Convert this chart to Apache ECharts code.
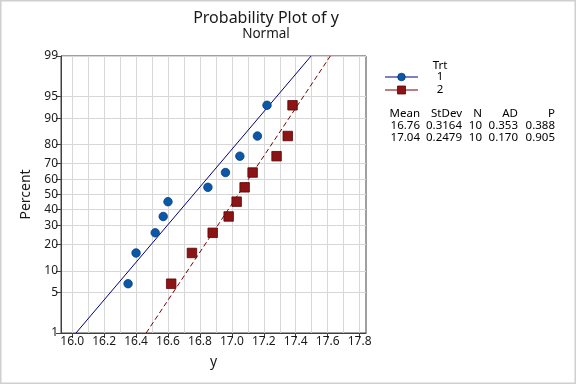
<!DOCTYPE html>
<html>
<head>
<meta charset="utf-8">
<script src="https://cdn.jsdelivr.net/npm/echarts@6/dist/echarts.min.js"></script>
<style>
html,body{margin:0;padding:0;background:#fff;}
#chart{width:576px;height:384px;}
</style>
</head>
<body>
<div id="chart"></div>
<script>
// ---- data ----
const percentTicks = [1, 5, 10, 20, 30, 40, 50, 60, 70, 80, 90, 95, 99];
const xLabelTicks = [16.0, 16.2, 16.4, 16.6, 16.8, 17.0, 17.2, 17.4, 17.6, 17.8];
const xGridTicks = [16.0, 16.1, 16.2, 16.3, 16.4, 16.5, 16.6, 16.7, 16.8, 16.9, 17.0, 17.1, 17.2, 17.3, 17.4, 17.5, 17.6, 17.7, 17.8];
const plotPercent = [6.7, 16.3, 26.0, 35.6, 45.2, 54.8, 64.4, 74.0, 83.7, 93.3];
const trt1 = [16.35, 16.40, 16.52, 16.57, 16.60, 16.85, 16.96, 17.05, 17.16, 17.22];
const trt2 = [16.62, 16.75, 16.88, 16.98, 17.03, 17.08, 17.13, 17.28, 17.35, 17.38];
const groups = ['1', '2'];
const means = [16.76, 17.04];
const stdevs = [0.3164, 0.2479];
const ns = [10, 10];
const ads = ['0.353', '0.170'];
const ps = ['0.388', '0.905'];

// inverse normal CDF (probability scale transform)
function qnorm(p){
  const a=[-3.969683028665376e+01,2.209460984245205e+02,-2.759285104469687e+02,1.383577518672690e+02,-3.066479806614716e+01,2.506628277459239e+00];
  const b=[-5.447609879822406e+01,1.615858368580409e+02,-1.556989798598866e+02,6.680131188771972e+01,-1.328068155288572e+01];
  const c=[-7.784894002430293e-03,-3.223964580411365e-01,-2.400758277161838e+00,-2.549732539343734e+00,4.374664141464968e+00,2.938163982698783e+00];
  const d=[7.784695709041462e-03,3.224671290700398e-01,2.445134137142996e+00,3.754408661907416e+00];
  const pl=0.02425, ph=1-pl; let q,r;
  if(p<pl){q=Math.sqrt(-2*Math.log(p));return (((((c[0]*q+c[1])*q+c[2])*q+c[3])*q+c[4])*q+c[5])/((((d[0]*q+d[1])*q+d[2])*q+d[3])*q+1);}
  if(p<=ph){q=p-0.5;r=q*q;return (((((a[0]*r+a[1])*r+a[2])*r+a[3])*r+a[4])*r+a[5])*q/(((((b[0]*r+b[1])*r+b[2])*r+b[3])*r+b[4])*r+1);}
  q=Math.sqrt(-2*Math.log(1-p));return -(((((c[0]*q+c[1])*q+c[2])*q+c[3])*q+c[4])*q+c[5])/((((d[0]*q+d[1])*q+d[2])*q+d[3])*q+1);
}
const zTicks = percentTicks.map(p => qnorm(p/100));
const zMin = zTicks[0], zMax = zTicks[zTicks.length-1];
const zPts = plotPercent.map(p => qnorm(p/100));
function fitLine(i){ return [[means[i]+stdevs[i]*zMin, zMin],[means[i]+stdevs[i]*zMax, zMax]]; }

const FONT = '"Noto Sans", "Open Sans", sans-serif';
const chart = echarts.init(document.getElementById('chart'), null, {renderer:'canvas'});

const legX = 385, legX2 = 418;
const colR = [420, 462, 482, 518, 555];
const tableGraphics = [];
const header = ['Mean','StDev','N','AD','P'];
header.forEach((h,j)=>tableGraphics.push({type:'text', x:colR[j], y:114, style:{text:h, textAlign:'right', textVerticalAlign:'middle', font:'11.5px '+FONT, fill:'#000'}}));
groups.forEach((g,i)=>{
  const row=[means[i].toFixed(2), stdevs[i].toFixed(4), String(ns[i]), ads[i], ps[i]];
  row.forEach((t,j)=>tableGraphics.push({type:'text', x:colR[j], y:126+i*11.7, style:{text:t, textAlign:'right', textVerticalAlign:'middle', font:'11.5px '+FONT, fill:'#000'}}));
});

chart.setOption({
  backgroundColor:'#fff',
  animation:false,
  title:{
    text:'Probability Plot of y', subtext:'Normal', left:261, top:5, textAlign:'center',
    textStyle:{fontFamily:FONT, fontSize:16, fontWeight:'normal', color:'#1a1a1a'},
    subtextStyle:{fontFamily:FONT, fontSize:13.5, color:'#1a1a1a'}, itemGap:1
  },
  grid:{left:61, right:210, top:56, bottom:51, show:true, borderColor:'#404040', borderWidth:1, backgroundColor:'#fff'},
  xAxis:[{
    type:'value', min:15.93, max:17.84, position:'bottom',
    name:'y', nameLocation:'middle', nameGap:22,
    nameTextStyle:{fontFamily:FONT, fontSize:14, color:'#1a1a1a'},
    axisLine:{show:true, onZero:false, lineStyle:{color:'#404040'}},
    axisTick:{show:true, length:5, customValues:xLabelTicks, lineStyle:{color:'#404040'}},
    axisLabel:{customValues:xLabelTicks, formatter:v=>v.toFixed(1), fontFamily:FONT, fontSize:12, color:'#1a1a1a', margin:3},
    splitLine:{show:false}
  },{
    type:'value', min:15.93, max:17.84, position:'top',
    axisLine:{show:false}, axisLabel:{show:false},
    axisTick:{show:false, customValues:xGridTicks},
    splitLine:{show:true, lineStyle:{color:'#d7d7d7', width:1}}
  }],
  yAxis:{
    type:'value', min:zMin, max:zMax,
    name:'Percent', nameLocation:'middle', nameGap:26, nameRotate:90,
    nameTextStyle:{fontFamily:FONT, fontSize:14, color:'#1a1a1a'},
    axisLine:{show:true, onZero:false, lineStyle:{color:'#404040'}},
    axisTick:{show:true, length:5, customValues:zTicks, lineStyle:{color:'#404040'}},
    axisLabel:{customValues:zTicks, showMinLabel:true, showMaxLabel:true, margin:3,
      formatter:v=>{const k=zTicks.findIndex(z=>Math.abs(z-v)<1e-6); return k>=0?String(percentTicks[k]):'';},
      fontFamily:FONT, fontSize:12, color:'#1a1a1a'},
    splitLine:{show:true, lineStyle:{color:'#d7d7d7', width:1}}
  },
  series:[
    {type:'line', name:'fit1', data:fitLine(0), symbol:'none', lineStyle:{color:'#000080', width:1}, z:3},
    {type:'line', name:'fit2', data:fitLine(1), symbol:'none', lineStyle:{color:'#7a0000', width:1, type:[5,3]}, z:3},
    {type:'scatter', name:'1', data:trt1.map((x,i)=>[x,zPts[i]]), symbol:'circle', symbolSize:8.5,
      itemStyle:{color:'#0b58a8', borderColor:'#063d80', borderWidth:0.8, opacity:1}, z:4},
    {type:'scatter', name:'2', data:trt2.map((x,i)=>[x,zPts[i]]), symbol:'rect', symbolSize:9.5,
      itemStyle:{color:'#8c1414', borderColor:'#5a0505', borderWidth:0.8, opacity:1}, z:4}
  ],
  graphic:[
    {type:'rect', shape:{x:0.5, y:0.5, width:575, height:383}, style:{fill:'none', stroke:'#cfcfcf', lineWidth:2}, silent:true, z:100},
    {type:'text', x:440, y:66, style:{text:'Trt', textAlign:'center', textVerticalAlign:'middle', font:'11.5px '+FONT, fill:'#000'}},
    {type:'line', shape:{x1:legX, y1:77, x2:legX2, y2:77}, style:{stroke:'#000080', lineWidth:1}},
    {type:'circle', shape:{cx:401.5, cy:77, r:3.8}, style:{fill:'#0b58a8', stroke:'#063d80', lineWidth:0.8}},
    {type:'text', x:440, y:77, style:{text:groups[0], textAlign:'center', textVerticalAlign:'middle', font:'11.5px '+FONT, fill:'#000'}},
    {type:'line', shape:{x1:legX, y1:90, x2:legX2, y2:90}, style:{stroke:'#7a0000', lineWidth:1}},
    {type:'rect', shape:{x:397.5, y:86, width:8, height:8}, style:{fill:'#8c1414', stroke:'#5a0505', lineWidth:0.8}},
    {type:'text', x:440, y:90, style:{text:groups[1], textAlign:'center', textVerticalAlign:'middle', font:'11.5px '+FONT, fill:'#000'}}
  ].concat(tableGraphics)
});
</script>
</body>
</html>
